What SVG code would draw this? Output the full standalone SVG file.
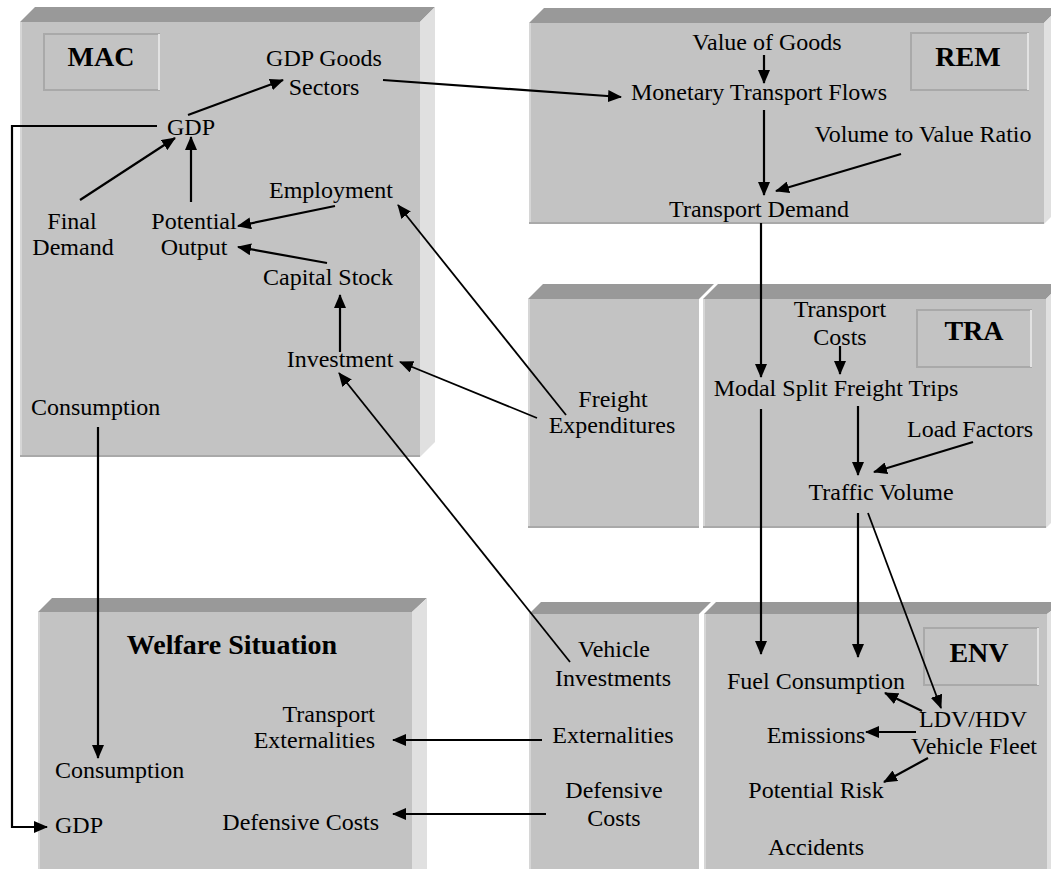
<svg xmlns="http://www.w3.org/2000/svg" width="1051" height="869" viewBox="0 0 1051 869">
<defs>
<marker id="ah" markerUnits="userSpaceOnUse" markerWidth="14" markerHeight="12" refX="13" refY="6" orient="auto">
<path d="M0,0 L14,6 L0,12 z" fill="#000"/>
</marker>
</defs>
<style>
.front{fill:#c3c3c3}
.top{fill:#999999}
.side{fill:#e0e0e0}
.hl{stroke:#d6d6d6;stroke-width:2}
.sh{stroke:#a9a9a9;stroke-width:2}
.lab{fill:#c3c3c3;stroke:#a9a9a9;stroke-width:2}
.labhl{stroke:#e2e2e2;stroke-width:2}
text{font-family:"Liberation Serif","Times New Roman",serif;font-size:24px;fill:#000}
.b{font-weight:bold;font-size:28px}
.m{text-anchor:middle}
.e{text-anchor:end}
.c{stroke:#000;stroke-width:2.2;fill:none;marker-end:url(#ah)}
.t{stroke:#000;stroke-width:1.8;fill:none;marker-end:url(#ah)}
.p{stroke:#000;stroke-width:2.2;fill:none}
</style>
<rect width="1051" height="869" fill="#fff"/>

<g id="box-mac">
<polygon class="top" points="20,22 35,7 435,7 420,22"/>
<polygon class="side" points="420,22 435,7 435,442 420,457"/>
<rect class="front" x="20" y="22" width="400" height="435"/>
<line class="hl" x1="21" y1="22" x2="21" y2="456"/>
<line class="sh" x1="20" y1="456" x2="420" y2="456"/>
<rect class="lab" x="44" y="34" width="115" height="56"/>
<line class="labhl" x1="159" y1="34" x2="159" y2="90"/>
<text class="b m" x="101" y="66">MAC</text>
</g>

<g id="box-rem">
<polygon class="top" points="529,23 544,8 1059,8 1044,23"/>
<polygon class="side" points="1044,23 1059,8 1059,209 1044,224"/>
<rect class="front" x="529" y="23" width="515" height="201"/>
<line class="hl" x1="530" y1="23" x2="530" y2="223"/>
<line class="sh" x1="529" y1="223" x2="1044" y2="223"/>
<rect class="lab" x="911" y="33" width="117" height="57"/>
<line class="labhl" x1="1028" y1="33" x2="1028" y2="90"/>
<text class="b m" x="968" y="66">REM</text>
</g>

<g id="box-freight">
<polygon class="top" points="528,299 543,284 714,284 699,299"/>
<rect class="front" x="528" y="299" width="171" height="229"/>
<line class="hl" x1="529" y1="299" x2="529" y2="527"/>
<line class="sh" x1="528" y1="527" x2="699" y2="527"/>
</g>

<g id="box-tra">
<polygon class="top" points="703,299 718,284 1061,284 1046,299"/>
<polygon class="side" points="1046,299 1061,284 1061,513 1046,528"/>
<rect class="front" x="703" y="299" width="343" height="229"/>
<line class="hl" x1="704" y1="299" x2="704" y2="527"/>
<line class="sh" x1="703" y1="527" x2="1046" y2="527"/>
<rect class="lab" x="917" y="310" width="114" height="57"/>
<line class="labhl" x1="1031" y1="310" x2="1031" y2="367"/>
<text class="b m" x="974" y="340">TRA</text>
</g>

<g id="box-welfare">
<polygon class="top" points="38,612 52,598 427,598 412,612"/>
<polygon class="side" points="412,612 427,598 427,869 412,869"/>
<rect class="front" x="38" y="612" width="374" height="257"/>
<line class="hl" x1="39" y1="612" x2="39" y2="869"/>
<text class="b m" x="232" y="654">Welfare Situation</text>
</g>

<g id="box-vehicle">
<polygon class="top" points="529,614 541,602 711,602 699,614"/>
<rect class="front" x="529" y="614" width="170" height="255"/>
<line class="hl" x1="530" y1="614" x2="530" y2="869"/>
</g>

<g id="box-env">
<polygon class="top" points="704,614 716,602 1063,602 1047,614"/>
<polygon class="side" points="1047,614 1063,602 1063,869 1047,869"/>
<rect class="front" x="704" y="614" width="343" height="255"/>
<line class="hl" x1="705" y1="614" x2="705" y2="869"/>
<rect class="lab" x="924" y="628" width="114" height="57"/>
<line class="labhl" x1="1038" y1="628" x2="1038" y2="685"/>
<text class="b m" x="979" y="662">ENV</text>
</g>

<g id="n-gdp-goods"><text class="m" x="324" y="66">GDP Goods</text><text class="m" x="324" y="95">Sectors</text></g>
<g id="n-gdp"><text class="m" x="191" y="135">GDP</text></g>
<g id="n-final-demand"><text class="m" x="72" y="229">Final</text><text class="m" x="73" y="255">Demand</text></g>
<g id="n-potential-output"><text class="m" x="194" y="229">Potential</text><text class="m" x="194" y="255">Output</text></g>
<g id="n-employment"><text class="m" x="331" y="198">Employment</text></g>
<g id="n-capital-stock"><text class="m" x="328" y="285">Capital Stock</text></g>
<g id="n-investment"><text class="m" x="340" y="367">Investment</text></g>
<g id="n-consumption-mac"><text x="31" y="415">Consumption</text></g>
<g id="n-value-goods"><text class="m" x="767" y="50">Value of Goods</text></g>
<g id="n-monetary"><text class="m" x="759" y="100">Monetary Transport Flows</text></g>
<g id="n-volume-value"><text class="m" x="923" y="142">Volume to Value Ratio</text></g>
<g id="n-transport-demand"><text class="m" x="759" y="217">Transport Demand</text></g>
<g id="n-freight-exp"><text class="m" x="613" y="407">Freight</text><text class="m" x="612" y="433">Expenditures</text></g>
<g id="n-transport-costs"><text class="m" x="840" y="317">Transport</text><text class="m" x="840" y="345">Costs</text></g>
<g id="n-modal-split"><text class="m" x="836" y="396">Modal Split Freight Trips</text></g>
<g id="n-load-factors"><text class="m" x="970" y="437">Load Factors</text></g>
<g id="n-traffic-volume"><text class="m" x="881" y="500">Traffic Volume</text></g>
<g id="n-transport-ext"><text class="e" x="375" y="722">Transport</text><text class="e" x="375" y="748">Externalities</text></g>
<g id="n-consumption-w"><text x="55" y="778">Consumption</text></g>
<g id="n-gdp-w"><text x="55" y="833">GDP</text></g>
<g id="n-defensive-w"><text class="e" x="379" y="830">Defensive Costs</text></g>
<g id="n-vehicle-inv"><text class="m" x="614" y="657">Vehicle</text><text class="m" x="613" y="686">Investments</text></g>
<g id="n-externalities"><text class="m" x="613" y="743">Externalities</text></g>
<g id="n-defensive"><text class="m" x="614" y="798">Defensive</text><text class="m" x="614" y="826">Costs</text></g>
<g id="n-fuel"><text class="m" x="816" y="689">Fuel Consumption</text></g>
<g id="n-fleet"><text class="m" x="973" y="727">LDV/HDV</text><text class="m" x="974" y="754">Vehicle Fleet</text></g>
<g id="n-emissions"><text class="m" x="816" y="743">Emissions</text></g>
<g id="n-risk"><text class="m" x="816" y="798">Potential Risk</text></g>
<g id="n-accidents"><text class="m" x="816" y="855">Accidents</text></g>

<g id="connectors">
<line class="c" x1="188" y1="115" x2="283" y2="80"/>
<line class="c" x1="80" y1="200" x2="175" y2="138"/>
<line class="c" x1="191" y1="202" x2="191" y2="137"/>
<line class="c" x1="335" y1="206" x2="238" y2="226"/>
<line class="c" x1="327" y1="263" x2="238" y2="247"/>
<line class="c" x1="340" y1="352" x2="340" y2="295"/>
<line class="c" x1="383" y1="80" x2="621" y2="97"/>
<polyline class="c" points="157,126 12,126 12,827 47,827"/>
<line class="c" x1="98" y1="427" x2="98" y2="758"/>
<line class="t" x1="566" y1="415" x2="398" y2="205"/>
<line class="t" x1="537" y1="418" x2="400" y2="362"/>
<line class="t" x1="570" y1="662" x2="339" y2="373"/>
<line class="c" x1="542" y1="740" x2="393" y2="740"/>
<line class="c" x1="546" y1="814" x2="393" y2="814"/>
<line class="c" x1="764" y1="55" x2="764" y2="83"/>
<line class="c" x1="764" y1="110" x2="764" y2="195"/>
<line class="c" x1="901" y1="154" x2="776" y2="191"/>
<line class="c" x1="761" y1="223" x2="761" y2="377"/>
<line class="c" x1="840" y1="346" x2="840" y2="374"/>
<line class="c" x1="858" y1="406" x2="858" y2="475"/>
<line class="c" x1="973" y1="442" x2="874" y2="472"/>
<line class="c" x1="761" y1="409" x2="761" y2="654"/>
<line class="c" x1="858" y1="513" x2="858" y2="657"/>
<line class="t" x1="868" y1="513" x2="941" y2="708"/>
<line class="c" x1="922" y1="711" x2="885" y2="693"/>
<line class="c" x1="916" y1="732" x2="866" y2="732"/>
<line class="c" x1="928" y1="758" x2="884" y2="782"/>
</g>
</svg>
